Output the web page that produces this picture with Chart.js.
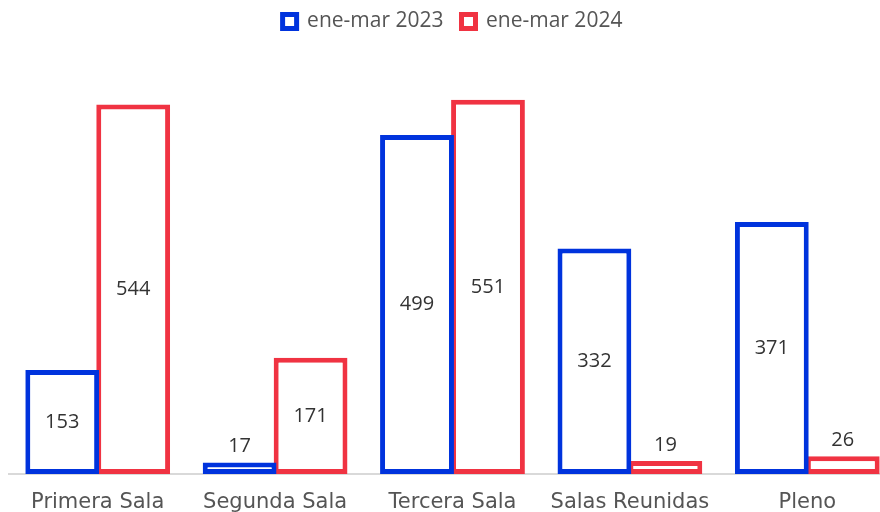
<!DOCTYPE html>
<html>
<head>
<meta charset="utf-8">
<script src="https://cdn.jsdelivr.net/npm/chart.js@4/dist/chart.umd.min.js"></script>
<style>
  html, body { margin: 0; padding: 0; background: #fff; overflow: hidden; }
  #wrap { position: absolute; left: 0; top: 0; width: 896px; height: 512px; }
</style>
</head>
<body>
<div id="wrap"><canvas id="myChart"></canvas></div>
<script>
const categories = ['Primera Sala', 'Segunda Sala', 'Tercera Sala', 'Salas Reunidas', 'Pleno'];
const seriesNames = ['ene-mar 2023', 'ene-mar 2024'];
const values2023 = [153, 17, 499, 332, 371];
const values2024 = [544, 171, 551, 19, 26];
const seriesColors = ['#0033dd', '#f03342'];

// value labels: inside the bar when tall enough, above it when not
const barLabels = {
  id: 'barLabels',
  afterDatasetsDraw(chart) {
    const ctx = chart.ctx;
    ctx.save();
    ctx.font = '20px "Open Sans"';
    ctx.fillStyle = '#333';
    ctx.textAlign = 'center';
    ctx.textBaseline = 'middle';
    chart.data.datasets.forEach((ds, i) => {
      chart.getDatasetMeta(i).data.forEach((bar, j) => {
        const h = bar.base - bar.y;
        const y = h > 45 ? (bar.y + bar.base) / 2 : bar.y - 16;
        ctx.fillText(ds.data[j], bar.x, y);
      });
    });
    ctx.restore();
  }
};

new Chart('myChart', {
  type: 'bar',
  data: {
    labels: categories,
    datasets: [
      { label: seriesNames[0], data: values2023, backgroundColor: '#fff', borderColor: seriesColors[0], borderWidth: 5, borderSkipped: false },
      { label: seriesNames[1], data: values2024, backgroundColor: '#fff', borderColor: seriesColors[1], borderWidth: 5, borderSkipped: false }
    ]
  },
  options: {
    responsive: true,
    maintainAspectRatio: false,
    animation: false,
    datasets: { bar: { categoryPercentage: 0.8, barPercentage: 1.04 } },
    layout: { padding: { left: 9, right: 0, top: -7, bottom: 0 } },
    plugins: {
      legend: {
        position: 'top',
        labels: {
          color: '#555',
          font: { family: 'Open Sans', size: 21 },
          boxWidth: 14,
          boxHeight: 14,
          padding: 18,
          generateLabels(chart) {
            return chart.data.datasets.map((ds, i) => ({
              text: ds.label,
              fillStyle: '#fff',
              strokeStyle: ds.borderColor,
              lineWidth: 5,
              fontColor: '#555',
              datasetIndex: i,
              hidden: false
            }));
          }
        }
      },
      tooltip: { enabled: false }
    },
    scales: {
      x: {
        grid: { display: false },
        border: { display: true, color: '#d9d9d9', width: 2 },
        ticks: { color: '#555', font: { family: 'DejaVu Sans', size: 21 }, padding: 8 },
        afterFit(scale) { scale.height = 38; }
      },
      y: {
        display: false,
        min: 0,
        max: 636
      }
    }
  },
  plugins: [barLabels]
});
</script>
</body>
</html>
